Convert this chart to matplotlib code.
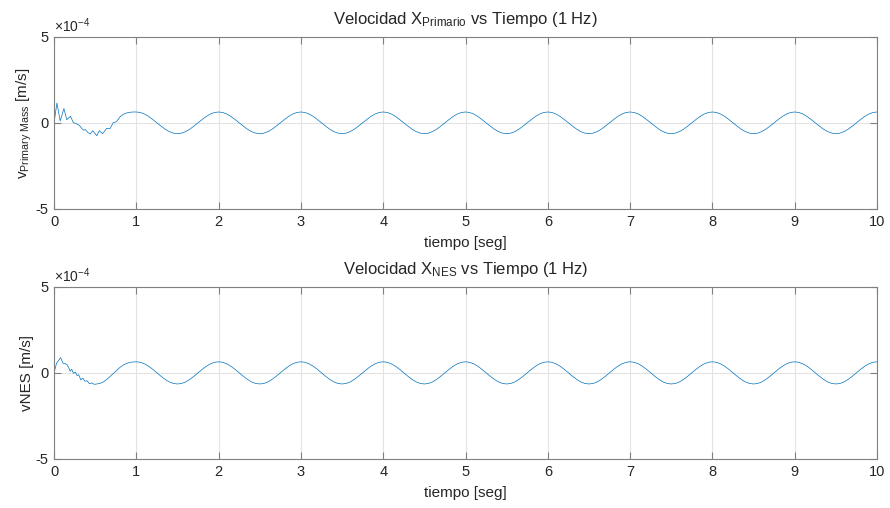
import numpy as np
import matplotlib
matplotlib.use('Agg')
import matplotlib.pyplot as plt

plt.rcParams['font.family'] = ['Liberation Sans', 'DejaVu Sans']
plt.rcParams['mathtext.fontset'] = 'custom'
plt.rcParams['mathtext.rm'] = 'Liberation Sans'
plt.rcParams['mathtext.it'] = 'Liberation Sans'

# velocities in units of 1e-4 m/s
# start-up transient (irregular sample times)
t_trans_prim = [0.00, 0.035, 0.075, 0.12, 0.155, 0.20, 0.235, 0.275, 0.31, 0.335,
                0.356, 0.38, 0.41, 0.44, 0.47, 0.52, 0.55, 0.59, 0.64, 0.68,
                0.72, 0.76, 0.80, 0.84, 0.88, 0.92, 0.96]
v_trans_prim = [0.00, 1.16, 0.12, 0.84, 0.19, 0.39, 0.02, -0.05, -0.15, -0.30,
                -0.42, -0.38, -0.55, -0.64, -0.45, -0.74, -0.45, -0.62, -0.31, -0.33,
                0.02, 0.08, 0.35, 0.50, 0.58, 0.62, 0.64]

t_trans_nes = [0.00, 0.03, 0.08, 0.11, 0.13, 0.155, 0.18, 0.195, 0.215, 0.235,
               0.26, 0.28, 0.30, 0.325, 0.35, 0.375, 0.40, 0.43, 0.46, 0.49,
               0.52, 0.56, 0.60, 0.64, 0.68, 0.72, 0.76, 0.80, 0.84, 0.88,
               0.92, 0.96]
v_trans_nes = [0.00, 0.56, 0.89, 0.56, 0.55, 0.50, 0.30, 0.10, 0.22, -0.02,
               0.05, -0.15, -0.10, -0.40, -0.30, -0.48, -0.45, -0.62, -0.58, -0.66,
               -0.64, -0.60, -0.52, -0.38, -0.21, -0.03, 0.14, 0.32, 0.46, 0.55,
               0.61, 0.64]

# steady response, one row per second, 0.05 s apart, from t = 1.00 to 10.00
v_ss_prim = [
    0.64, 0.61, 0.52, 0.38, 0.20, 0.01, -0.18, -0.36, -0.50, -0.59, -0.62, -0.59, -0.50, -0.36, -0.18, 0.01, 0.20, 0.38, 0.52, 0.61,
    0.64, 0.61, 0.52, 0.38, 0.20, 0.01, -0.18, -0.36, -0.50, -0.59, -0.62, -0.59, -0.50, -0.36, -0.18, 0.01, 0.20, 0.38, 0.52, 0.61,
    0.64, 0.61, 0.52, 0.38, 0.20, 0.01, -0.18, -0.36, -0.50, -0.59, -0.62, -0.59, -0.50, -0.36, -0.18, 0.01, 0.20, 0.38, 0.52, 0.61,
    0.64, 0.61, 0.52, 0.38, 0.20, 0.01, -0.18, -0.36, -0.50, -0.59, -0.62, -0.59, -0.50, -0.36, -0.18, 0.01, 0.20, 0.38, 0.52, 0.61,
    0.64, 0.61, 0.52, 0.38, 0.20, 0.01, -0.18, -0.36, -0.50, -0.59, -0.62, -0.59, -0.50, -0.36, -0.18, 0.01, 0.20, 0.38, 0.52, 0.61,
    0.64, 0.61, 0.52, 0.38, 0.20, 0.01, -0.18, -0.36, -0.50, -0.59, -0.62, -0.59, -0.50, -0.36, -0.18, 0.01, 0.20, 0.38, 0.52, 0.61,
    0.64, 0.61, 0.52, 0.38, 0.20, 0.01, -0.18, -0.36, -0.50, -0.59, -0.62, -0.59, -0.50, -0.36, -0.18, 0.01, 0.20, 0.38, 0.52, 0.61,
    0.64, 0.61, 0.52, 0.38, 0.20, 0.01, -0.18, -0.36, -0.50, -0.59, -0.62, -0.59, -0.50, -0.36, -0.18, 0.01, 0.20, 0.38, 0.52, 0.61,
    0.64, 0.61, 0.52, 0.38, 0.20, 0.01, -0.18, -0.36, -0.50, -0.59, -0.62, -0.59, -0.50, -0.36, -0.18, 0.01, 0.20, 0.38, 0.52, 0.61,
    0.64]
v_ss_nes = [
    0.65, 0.62, 0.53, 0.39, 0.21, 0.01, -0.19, -0.37, -0.52, -0.61, -0.64, -0.61, -0.52, -0.37, -0.19, 0.01, 0.21, 0.39, 0.53, 0.62,
    0.65, 0.62, 0.53, 0.39, 0.21, 0.01, -0.19, -0.37, -0.52, -0.61, -0.64, -0.61, -0.52, -0.37, -0.19, 0.01, 0.21, 0.39, 0.53, 0.62,
    0.65, 0.62, 0.53, 0.39, 0.21, 0.01, -0.19, -0.37, -0.52, -0.61, -0.64, -0.61, -0.52, -0.37, -0.19, 0.01, 0.21, 0.39, 0.53, 0.62,
    0.65, 0.62, 0.53, 0.39, 0.21, 0.01, -0.19, -0.37, -0.52, -0.61, -0.64, -0.61, -0.52, -0.37, -0.19, 0.01, 0.21, 0.39, 0.53, 0.62,
    0.65, 0.62, 0.53, 0.39, 0.21, 0.01, -0.19, -0.37, -0.52, -0.61, -0.64, -0.61, -0.52, -0.37, -0.19, 0.01, 0.21, 0.39, 0.53, 0.62,
    0.65, 0.62, 0.53, 0.39, 0.21, 0.01, -0.19, -0.37, -0.52, -0.61, -0.64, -0.61, -0.52, -0.37, -0.19, 0.01, 0.21, 0.39, 0.53, 0.62,
    0.65, 0.62, 0.53, 0.39, 0.21, 0.01, -0.19, -0.37, -0.52, -0.61, -0.64, -0.61, -0.52, -0.37, -0.19, 0.01, 0.21, 0.39, 0.53, 0.62,
    0.65, 0.62, 0.53, 0.39, 0.21, 0.01, -0.19, -0.37, -0.52, -0.61, -0.64, -0.61, -0.52, -0.37, -0.19, 0.01, 0.21, 0.39, 0.53, 0.62,
    0.65, 0.62, 0.53, 0.39, 0.21, 0.01, -0.19, -0.37, -0.52, -0.61, -0.64, -0.61, -0.52, -0.37, -0.19, 0.01, 0.21, 0.39, 0.53, 0.62,
    0.65]

t_ss = 1.0 + 0.05 * np.arange(len(v_ss_prim))

x_ticks = [0, 1, 2, 3, 4, 5, 6, 7, 8, 9, 10]
y_ticks = [-5, 0, 5]

titles = [r'Velocidad X$_{\mathrm{Primario}}$ vs Tiempo (1 Hz)',
          r'Velocidad X$_{\mathrm{NES}}$ vs Tiempo (1 Hz)']
ylabels = [r'v$_{\mathrm{Primary\ Mass}}$ [m/s]', 'vNES [m/s]']

line_color = '#0072BD'
axis_color = '#808080'
text_color = '#262626'

fig = plt.figure(figsize=(8.9, 5.08), dpi=100)
ax1 = fig.add_axes([0.0607, 0.5886, 0.9247, 0.3386])
ax2 = fig.add_axes([0.0607, 0.0965, 0.9247, 0.3386])

series = [(t_trans_prim, v_trans_prim, v_ss_prim),
          (t_trans_nes, v_trans_nes, v_ss_nes)]

for ax, (tt, vt, vs), title, ylab in zip([ax1, ax2], series, titles, ylabels):
    t = np.concatenate([tt, t_ss])
    v = np.concatenate([vt, vs])
    ax.plot(t, v, color=line_color, lw=0.5)

    ax.set_xlim(0, 10)
    ax.set_ylim(-5, 5)
    ax.set_xticks(x_ticks)
    ax.set_yticks(y_ticks)
    ax.set_yticklabels([str(y) for y in y_ticks])
    ax.grid(True, color='#e3e3e3', lw=0.8)
    ax.set_axisbelow(True)
    ax.tick_params(direction='in', top=True, right=True, length=5, width=0.8,
                   color=axis_color, labelcolor=text_color, labelsize=10.5, pad=4)
    for s in ax.spines.values():
        s.set_color(axis_color)
        s.set_linewidth(0.8)

    ax.set_title(title, fontsize=12, color=text_color, pad=9)
    ax.set_xlabel('tiempo [seg]', fontsize=11, color=text_color, labelpad=5.5)
    ax.set_ylabel(ylab, fontsize=11, color=text_color, labelpad=1)
    ax.text(0.0, 1.01, r'$\times$10$^{-4}$', transform=ax.transAxes,
            ha='left', va='bottom', fontsize=10, color=text_color)

fig.savefig('out.png', dpi=100)
